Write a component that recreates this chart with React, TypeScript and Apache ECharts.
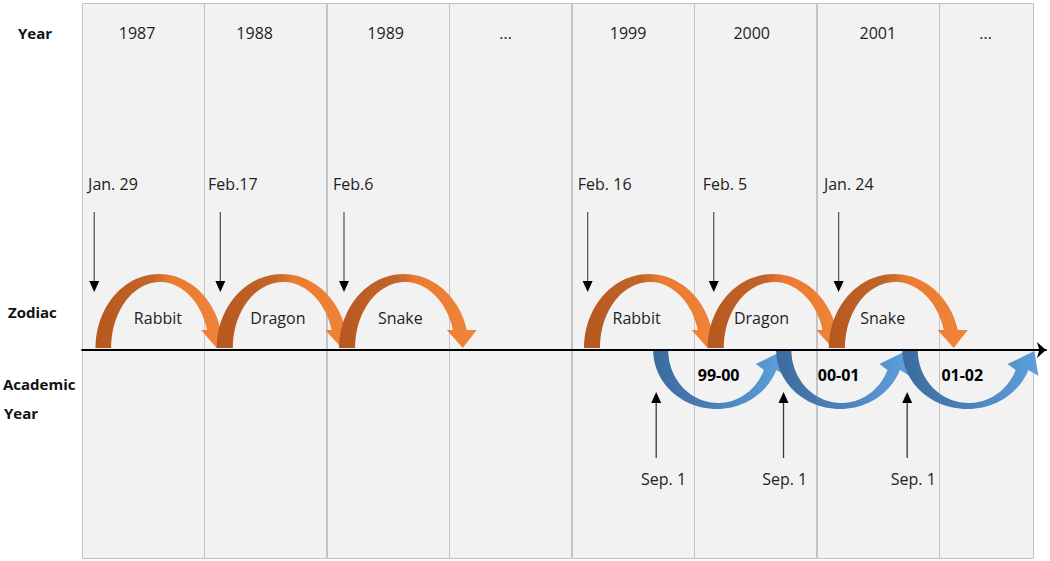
import React, { useEffect, useRef } from 'react';
import * as echarts from 'echarts';

// ---------- data (x in "column" units: one column = one calendar year) ----------
const years = ['1987', '1988', '1989', '...', '1999', '2000', '2001', '...'];
const yearLabelX = [0.45, 1.41, 2.48, 3.46, 4.46, 5.47, 6.5, 7.38];
const columnEdges = [0, 1, 2, 3, 4, 5, 6, 7, 7.77];

const newYearDates = ['Jan. 29', 'Feb.17', 'Feb.6', 'Feb. 16', 'Feb. 5', 'Jan. 24'];
const newYearLabelX = [0.05, 1.03, 2.05, 4.05, 5.07, 6.06];
const newYearArrowX = [0.1, 1.13, 2.14, 4.13, 5.16, 6.18];

const zodiacs = ['Rabbit', 'Dragon', 'Snake', 'Rabbit', 'Dragon', 'Snake'];
const zodiacStart = [0.11, 1.1, 2.1, 4.1, 5.11, 6.1];
const zodiacEnd = [1.1, 2.12, 3.11, 5.11, 6.13, 7.12];
const zodiacLabelX = [0.62, 1.6, 2.6, 4.53, 5.55, 6.54];

const academicYears = ['99-00', '00-01', '01-02'];
const academicStart = [4.665, 5.67, 6.7];
const academicEnd = [5.71, 6.72, 7.77];
const academicLabelX = [5.2, 6.18, 7.19];

const sepDates = ['Sep. 1', 'Sep. 1', 'Sep. 1'];
const sepArrowX = [4.69, 5.73, 6.74];
const sepLabelX = [4.75, 5.74, 6.79];

// ---------- layout constants (y = pixels above the time line) ----------
const Y_TOP = 347;
const Y_BOTTOM = -208;
const Y_YEAR = 317;
const Y_DATE = 166;
const DOWN_FROM = 138;
const DOWN_TIP = 58;
const Y_ZODIAC = 32;
const Y_ACAD = -25;
const UP_FROM = -108;
const UP_TIP = -42;
const Y_SEP = -129;

const FONT = '"Open Sans", "Noto Sans", sans-serif';
const X_MAX = (1046 - 82) / 122.43;

const textSeries = (labels: string[], xs: number[], y: number, font: string, align: string, color: string) => ({
  type: 'custom',
  z: 8,
  silent: true,
  data: xs.map((x) => [x, y]),
  renderItem: (params: any, api: any) => {
    const p = api.coord([api.value(0), api.value(1)]);
    return {
      type: 'text',
      x: p[0],
      y: p[1],
      style: { text: labels[params.dataIndex], fill: color, font, align, verticalAlign: 'middle' },
    };
  },
});

const arrowSeries = (xs: number[], from: number, tip: number, color: string) => ({
  type: 'custom',
  z: 6,
  silent: true,
  data: xs.map((x) => [x, from, tip]),
  renderItem: (params: any, api: any) => {
    const x = api.value(0);
    const a = api.coord([x, api.value(1)]);
    const b = api.coord([x, api.value(2)]);
    const dir = Math.sign(b[1] - a[1]);
    const hl = 11;
    const hw = 5;
    return {
      type: 'group',
      children: [
        { type: 'line', shape: { x1: a[0], y1: a[1], x2: b[0], y2: b[1] - dir * hl }, style: { stroke: color, lineWidth: 1.3 } },
        {
          type: 'polygon',
          shape: { points: [[b[0], b[1]], [b[0] - hw, b[1] - dir * hl], [b[0] + hw, b[1] - dir * hl]] },
          style: { fill: '#000' },
        },
      ],
    };
  },
});

const orangeShape = (api: any, x0: number, x1: number) => {
  const W = 124;
  const P = (u: number, v: number) => api.coord([x0 + ((x1 - x0) * u) / W, v]);
  const pts: number[][] = [];
  const N = 48;
  const base = 2;
  const phiO = Math.asin(18 / 74);
  for (let i = 0; i <= N; i++) {
    const t = Math.PI - ((Math.PI - phiO) * i) / N;
    pts.push(P(65 + 65 * Math.cos(t), base + 74 * Math.sin(t)));
  }
  pts.push(P(138, base + 18), P(124, base), P(108, base + 18));
  const phiI = Math.asin(18 / 66);
  for (let i = 0; i <= N; i++) {
    const t = phiI + ((Math.PI - phiI) * i) / N;
    pts.push(P(66 + 50 * Math.cos(t), base + 66 * Math.sin(t)));
  }
  return pts;
};

const blueShape = (api: any, x0: number, x1: number) => {
  const W = 127;
  const P = (u: number, v: number) => api.coord([x0 + ((x1 - x0) * u) / W, v]);
  const pts: number[][] = [];
  const N = 48;
  const phiO = Math.asin(20 / 59);
  for (let i = 0; i <= N; i++) {
    const t = Math.PI - ((Math.PI - phiO) * i) / N;
    pts.push(P(63 + 63 * Math.cos(t), -59 * Math.sin(t)));
  }
  pts.push(P(132, -26), P(128, -1), P(102, -14));
  const phiI = Math.asin(20 / 53);
  for (let i = 0; i <= N; i++) {
    const t = phiI + ((Math.PI - phiI) * i) / N;
    pts.push(P(64.3 + 49.3 * Math.cos(t), -53 * Math.sin(t)));
  }
  return pts;
};

const option: any = {
  animation: false,
  backgroundColor: '#ffffff',
  grid: { left: 82, right: 4, top: 3, bottom: 3, outerBoundsMode: 'none' },
  xAxis: {
    type: 'value',
    min: 0,
    max: X_MAX,
    z: 10,
    axisLine: {
      show: true,
      onZero: true,
      symbol: ['none', 'arrow'],
      symbolSize: [12, 9],
      lineStyle: { color: '#000', width: 2 },
    },
    axisTick: { show: false },
    axisLabel: { show: false },
    splitLine: { show: false },
  },
  yAxis: { type: 'value', min: Y_BOTTOM, max: Y_TOP, show: false },
  graphic: [
    { type: 'text', x: 35, y: 33, style: { text: 'Year', font: `bold 15px ${FONT}`, fill: '#111', align: 'center', verticalAlign: 'middle' } },
    { type: 'text', x: 8, y: 312, style: { text: 'Zodiac', font: `bold 15px ${FONT}`, fill: '#111', align: 'left', verticalAlign: 'middle' } },
    { type: 'text', x: 3, y: 384, style: { text: 'Academic', font: `bold 15px ${FONT}`, fill: '#111', align: 'left', verticalAlign: 'middle' } },
    { type: 'text', x: 4, y: 413, style: { text: 'Year', font: `bold 15px ${FONT}`, fill: '#111', align: 'left', verticalAlign: 'middle' } },
  ],
  series: [
    {
      type: 'custom',
      z: 1,
      silent: true,
      data: columnEdges.slice(0, -1).map((e, i) => [e, columnEdges[i + 1]]),
      renderItem: (params: any, api: any) => {
        const a = api.coord([api.value(0), Y_TOP]);
        const b = api.coord([api.value(1), Y_BOTTOM]);
        return {
          type: 'rect',
          shape: { x: Math.round(a[0]) + 0.5, y: Math.round(a[1]) + 0.5, width: Math.round(b[0] - a[0]), height: Math.round(b[1] - a[1]) },
          style: { fill: '#f2f2f2', stroke: '#c3c3c3', lineWidth: 1 },
        };
      },
    },
    {
      type: 'custom',
      z: 3,
      silent: true,
      data: zodiacStart.map((s, i) => [s, zodiacEnd[i]]),
      renderItem: (params: any, api: any) => ({
        type: 'polygon',
        shape: { points: orangeShape(api, api.value(0), api.value(1)) },
        style: {
          fill: new echarts.graphic.LinearGradient(0, 0, 1, 0, [
            { offset: 0, color: '#b5581f' },
            { offset: 0.42, color: '#c4652b' },
            { offset: 0.55, color: '#ea7a30' },
            { offset: 1, color: '#f0853a' },
          ]),
        },
      }),
    },
    {
      type: 'custom',
      z: 3,
      silent: true,
      data: academicStart.map((s, i) => [s, academicEnd[i]]),
      renderItem: (params: any, api: any) => ({
        type: 'polygon',
        shape: { points: blueShape(api, api.value(0), api.value(1)) },
        style: {
          fill: new echarts.graphic.LinearGradient(0, 0, 1, 0, [
            { offset: 0, color: '#3b6b9c' },
            { offset: 0.45, color: '#4a80b8' },
            { offset: 1, color: '#5ea0dc' },
          ]),
        },
      }),
    },
    arrowSeries(newYearArrowX, DOWN_FROM, DOWN_TIP, '#5a5a5a'),
    arrowSeries(sepArrowX, UP_FROM, UP_TIP, '#3a3a3a'),
    textSeries(years, yearLabelX, Y_YEAR, `16px ${FONT}`, 'center', '#222'),
    textSeries(newYearDates, newYearLabelX, Y_DATE, `16px ${FONT}`, 'left', '#222'),
    textSeries(zodiacs, zodiacLabelX, Y_ZODIAC, `16px ${FONT}`, 'center', '#222'),
    textSeries(academicYears, academicLabelX, Y_ACAD, `bold 16px ${FONT}`, 'center', '#000'),
    textSeries(sepDates, sepLabelX, Y_SEP, `16px ${FONT}`, 'center', '#222'),
  ],
};

export default function App() {
  const ref = useRef<HTMLDivElement>(null);
  useEffect(() => {
    document.body.style.margin = '0';
    const chart = echarts.init(ref.current as HTMLDivElement, null, { renderer: 'svg' });
    chart.setOption(option);
    return () => chart.dispose();
  }, []);
  return <div ref={ref} style={{ width: 1050, height: 561 }} />;
}
